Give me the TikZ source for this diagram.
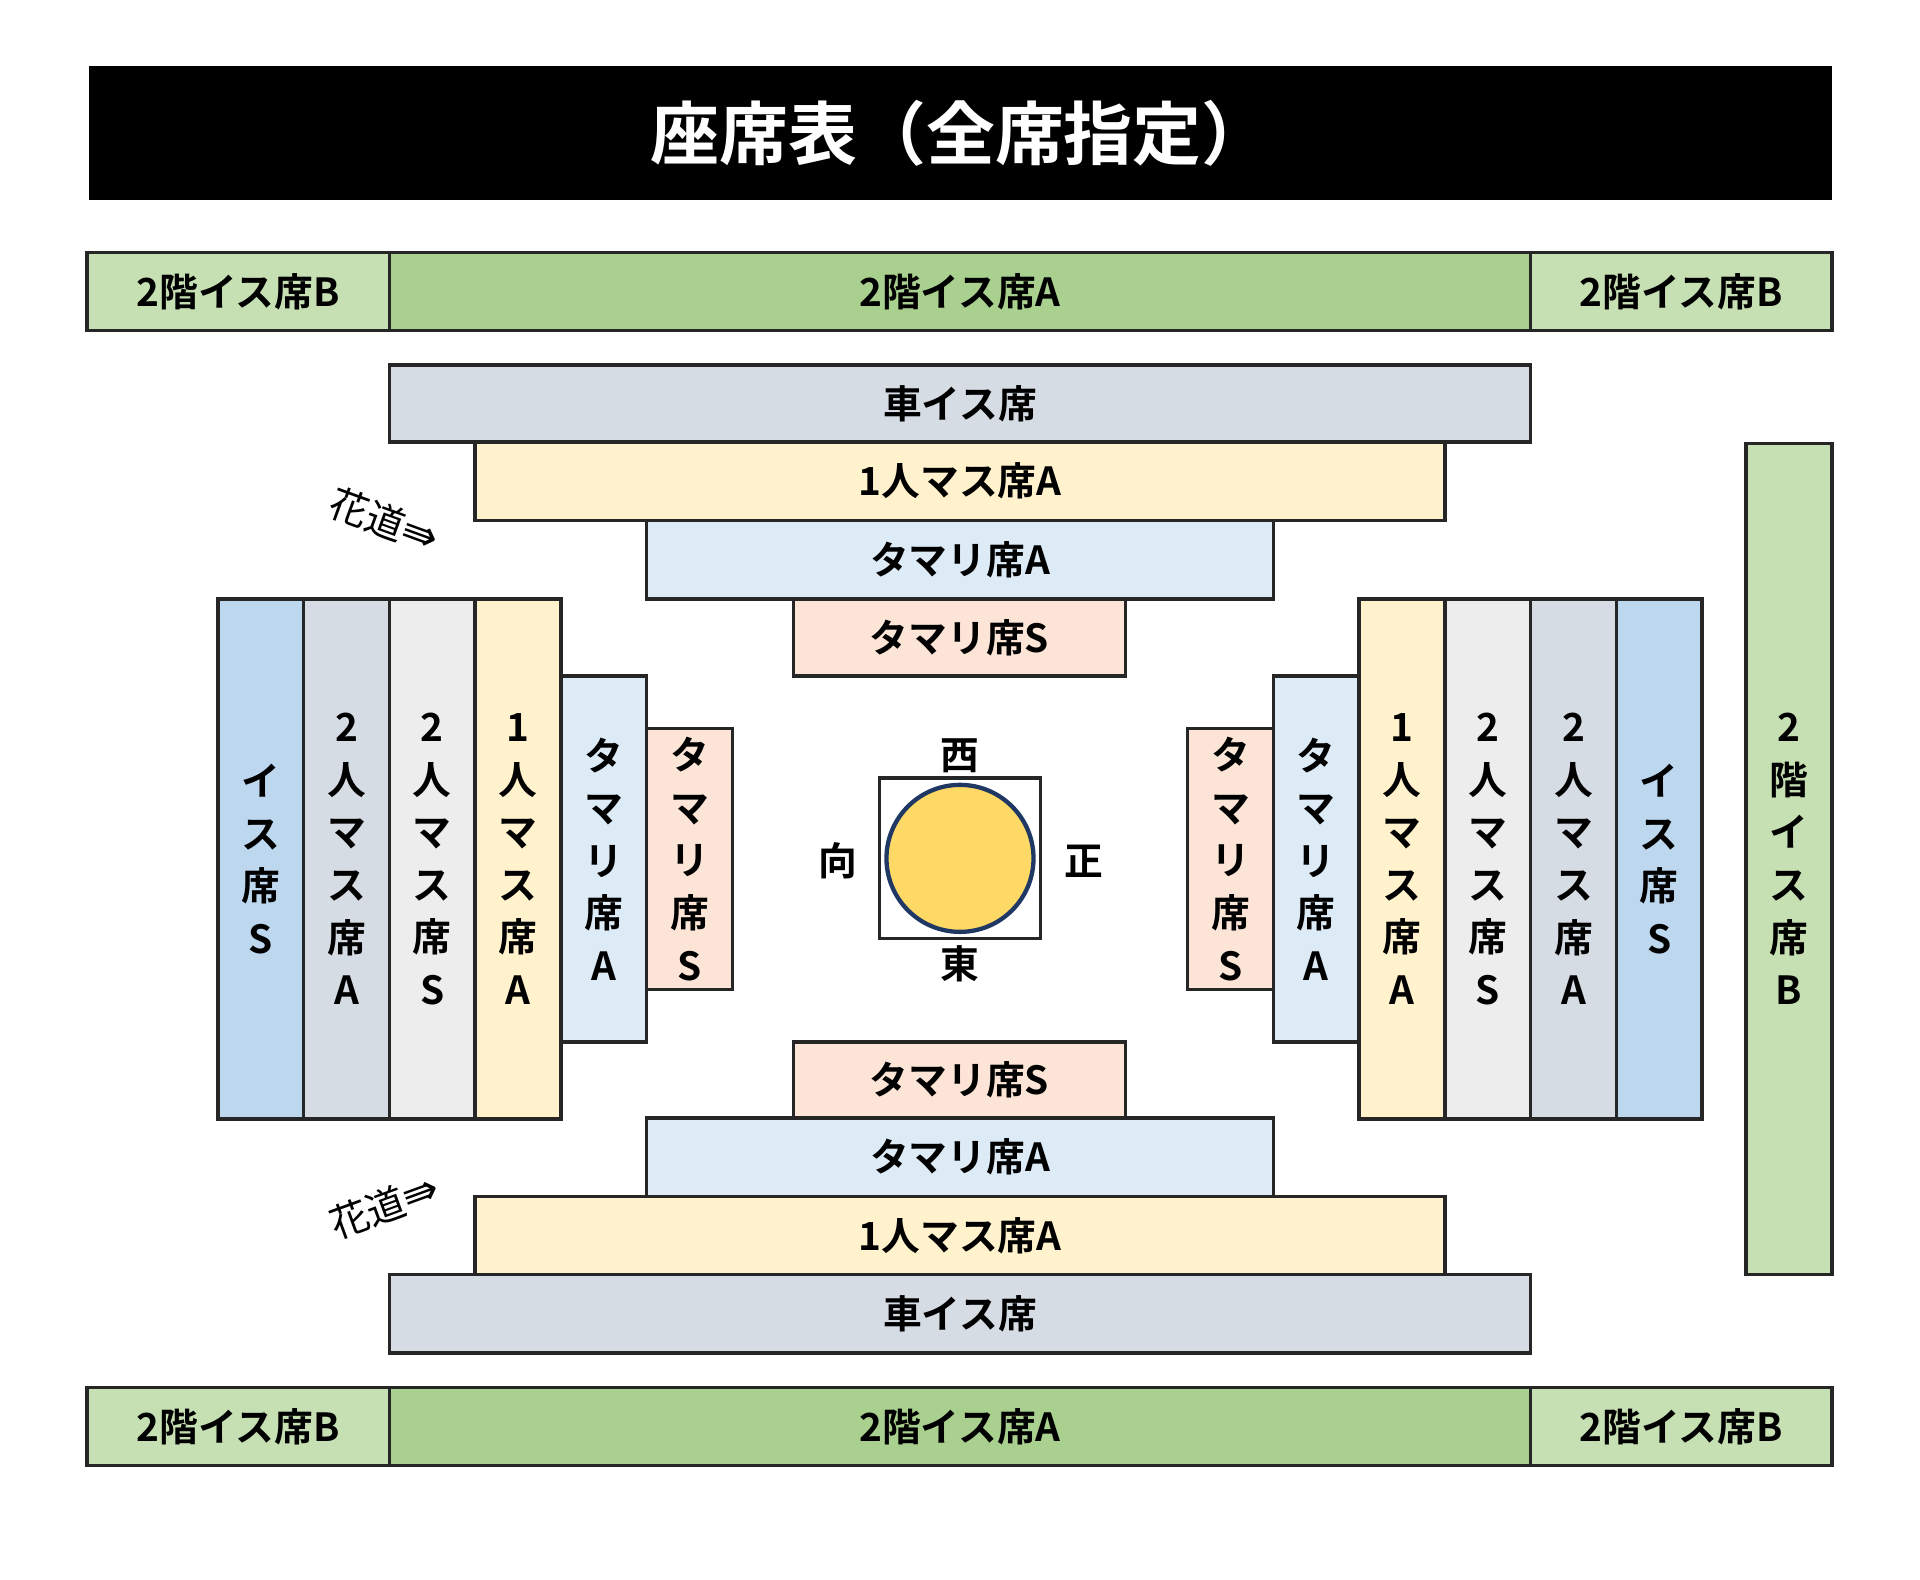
\documentclass[tikz,border=0pt]{standalone}
\usepackage{fontspec}
\setmainfont{Noto Sans CJK JP}[BoldFont={* Bold}]
\newfontfamily\arrowfont{DejaVu Sans}
\definecolor{kaiA}{HTML}{A9D08E}
\definecolor{kaiB}{HTML}{C6E0B4}
\definecolor{kuruma}{HTML}{D6DCE4}
\definecolor{hitori}{HTML}{FFF2CC}
\definecolor{tamaA}{HTML}{DDEBF7}
\definecolor{tamaS}{HTML}{FCE4D6}
\definecolor{isuS}{HTML}{BDD7EE}
\definecolor{futaS}{HTML}{EDEDED}
\definecolor{dohyo}{HTML}{FFD966}
\definecolor{rim}{HTML}{203864}
\newcommand{\seat}[7]{%
  \node[seat, fill=#6, minimum width={(#4-#2)*0.01cm}, minimum height={(#5-#3)*0.01cm}]
    (#1) at ({(#2+#4)/2},{(#3+#5)/2}) {#7};}
\begin{document}
\begin{tikzpicture}[x=0.01cm, y=-0.01cm,
    seat/.style={rectangle, draw=black!85, line width=0.8pt, inner sep=0pt,
      font=\fontsize{9}{12.2}\selectfont\bfseries, align=center},
    lab/.style={font=\fontsize{9}{11}\selectfont\bfseries},
    hana/.style={font=\fontsize{9}{11}\selectfont, inner sep=0pt}]
  \useasboundingbox (0,0) rectangle (1568,1290);
  % title
  \node[fill=black, text=white, minimum width=14.23cm, minimum height=1.09cm,
    font=\fontsize{16}{18}\selectfont\bfseries] (title) at (784.5,108.5) {座席表（全席指定）};
  % upper rows
  \seat{topBl}{71}{206}{318}{270}{kaiB}{2階イス席B}
  \seat{topA}{318}{206}{1250}{270}{kaiA}{2階イス席A}
  \seat{topBr}{1250}{206}{1496}{270}{kaiB}{2階イス席B}
  \seat{kurumaN}{318}{298}{1250}{361}{kuruma}{車イス席}
  \seat{hitoriN}{388}{361}{1180}{425}{hitori}{1人マス席A}
  \seat{tamaAN}{528}{425}{1040}{489}{tamaA}{タマリ席A}
  \seat{tamaSN}{648}{489}{919}{552}{tamaS}{タマリ席S}
  % lower rows
  \seat{tamaSS}{648}{851}{919}{913}{tamaS}{タマリ席S}
  \seat{tamaAS}{528}{913}{1040}{977}{tamaA}{タマリ席A}
  \seat{hitoriS}{388}{977}{1180}{1041}{hitori}{1人マス席A}
  \seat{kurumaS}{318}{1041}{1250}{1105}{kuruma}{車イス席}
  \seat{botBl}{71}{1133}{318}{1197}{kaiB}{2階イス席B}
  \seat{botA}{318}{1133}{1250}{1197}{kaiA}{2階イス席A}
  \seat{botBr}{1250}{1133}{1496}{1197}{kaiB}{2階イス席B}
  % left side
  \seat{isuW}{178}{489}{248}{914}{isuS}{イ\\ス\\席\\S}
  \seat{futaAW}{248}{489}{318}{914}{kuruma}{2\\人\\マ\\ス\\席\\A}
  \seat{futaSW}{318}{489}{388}{914}{futaS}{2\\人\\マ\\ス\\席\\S}
  \seat{hitoriW}{388}{489}{458}{914}{hitori}{1\\人\\マ\\ス\\席\\A}
  \seat{tamaAW}{458}{552}{528}{851}{tamaA}{タ\\マ\\リ\\席\\A}
  \seat{tamaSW}{528}{595}{598}{808}{tamaS}{タ\\マ\\リ\\席\\S}
  % right side
  \seat{tamaSE}{970}{595}{1040}{808}{tamaS}{タ\\マ\\リ\\席\\S}
  \seat{tamaAE}{1040}{552}{1110}{851}{tamaA}{タ\\マ\\リ\\席\\A}
  \seat{hitoriE}{1110}{489}{1180}{914}{hitori}{1\\人\\マ\\ス\\席\\A}
  \seat{futaSE}{1180}{489}{1250}{914}{futaS}{2\\人\\マ\\ス\\席\\S}
  \seat{futaAE}{1250}{489}{1320}{914}{kuruma}{2\\人\\マ\\ス\\席\\A}
  \seat{isuE}{1320}{489}{1390}{914}{isuS}{イ\\ス\\席\\S}
  \seat{kaiE}{1426}{362}{1496}{1041}{kaiB}{2\\階\\イ\\ス\\席\\B}
  % dohyo
  \node[draw=black!85, line width=0.8pt, minimum size=1.31cm, inner sep=0pt] (ring) at (784,701) {};
  \node[circle, draw=rim, line width=1pt, fill=dohyo, minimum size=1.2cm] (dohyo) at (784,701) {};
  \node[lab] (west) at (784,617) {西};
  \node[lab] (east) at (784,787) {東};
  \node[lab] (muko) at (684,703) {向};
  \node[lab] (sho) at (885,703) {正};
  % hanamichi
  \node[hana, rotate=-20] (hanaN) at (314,425) {花道{\arrowfont\fontsize{10}{11}\selectfont ⇛}};
  \node[hana, rotate=20] (hanaS) at (314,985) {花道{\arrowfont\fontsize{10}{11}\selectfont ⇛}};
\end{tikzpicture}
\end{document}
